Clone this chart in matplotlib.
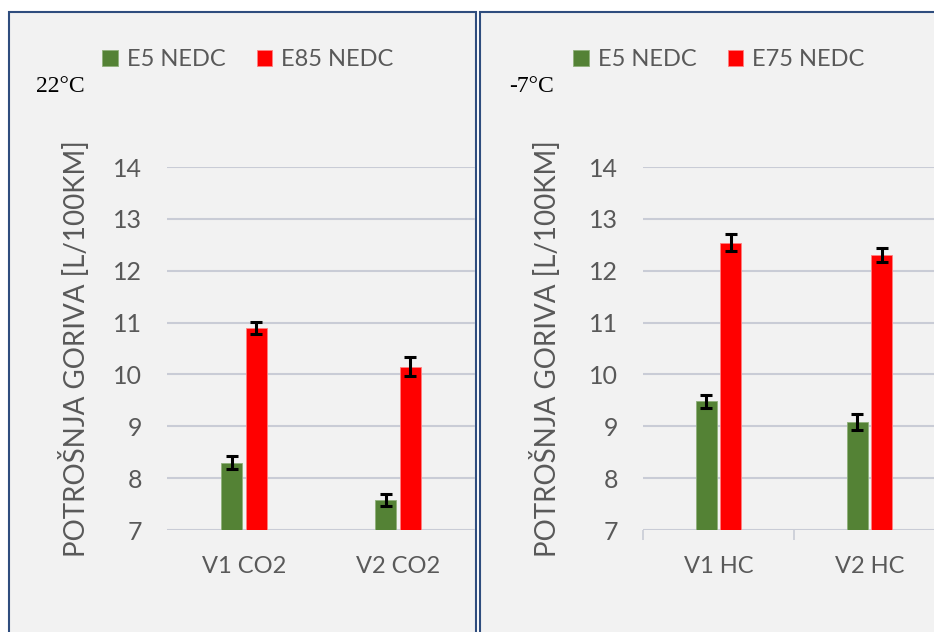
import numpy as np
import matplotlib
matplotlib.use('Agg')
import matplotlib.pyplot as plt
from matplotlib.patches import Rectangle

plt.rcParams['font.family'] = ['Lato', 'DejaVu Sans']

# data
cats_left = ['V1 CO2', 'V2 CO2']
e5_left = [8.3, 7.58]
e5_left_err = [0.12, 0.12]
e85_left = [10.9, 10.15]
e85_left_err = [0.12, 0.18]

cats_right = ['V1 HC', 'V2 HC']
e5_right = [9.48, 9.08]
e5_right_err = [0.13, 0.16]
e75_right = [12.54, 12.3]
e75_right_err = [0.16, 0.13]

yticks = [7, 8, 9, 10, 11, 12, 13, 14]

GREEN = '#548235'
RED = '#ff0000'
GREY = '#595959'
GRID = '#c9ccd6'
BORDER = '#2f4d7e'

W, H = 934, 632
fig = plt.figure(figsize=(W / 100, H / 100), dpi=100)
fig.patch.set_facecolor('white')

# panel backgrounds with border (pixel coords converted to figure fraction)
for x0, x1 in [(9, 476), (480, 940)]:
    rect = Rectangle((x0 / W, -0.01), (x1 - x0) / W, (H - 12) / H + 0.01,
                     transform=fig.transFigure, facecolor='#f2f2f2',
                     edgecolor=BORDER, linewidth=1.5, zorder=-10)
    fig.add_artist(rect)


def draw_panel(ax, cats, v1, e1, v2, e2, lab1, lab2, ticks_on_x):
    x = np.arange(len(cats))
    w = 0.14
    ax.bar(x - 0.08, v1, w, color=GREEN, edgecolor='#8fb07a', linewidth=0.6, label=lab1, zorder=3)
    ax.bar(x + 0.08, v2, w, color=RED, edgecolor='#ff8080', linewidth=0.6, label=lab2, zorder=3)
    ax.errorbar(x - 0.08, v1, yerr=e1, fmt='none', ecolor='black', elinewidth=2.2,
                capsize=4.3, capthick=2.2, zorder=4)
    ax.errorbar(x + 0.08, v2, yerr=e2, fmt='none', ecolor='black', elinewidth=2.2,
                capsize=4.3, capthick=2.2, zorder=4)
    ax.set_xlim(-0.5, len(cats) - 0.5)
    ax.set_ylim(7, 14)
    ax.set_yticks(yticks)
    ax.set_xticks(x)
    ax.set_xticklabels(cats)
    ax.set_facecolor('none')
    for s in ax.spines.values():
        s.set_visible(False)
    ax.yaxis.grid(True, color=GRID, linewidth=1.5, zorder=0)
    ax.set_axisbelow(True)
    ax.tick_params(axis='y', length=0, pad=18, labelsize=18, labelcolor=GREY)
    ax.tick_params(axis='x', length=0, pad=19, labelsize=17, labelcolor=GREY)
    if ticks_on_x:
        ax.set_xticks(np.arange(-0.5, len(cats)), minor=True)
        ax.tick_params(axis='x', which='minor', length=7, color=GRID, width=1.2)
    ax.set_ylabel('POTROŠNJA GORIVA [L/100KM]', fontsize=20, color=GREY)


axl = fig.add_axes([167 / W, 102 / H, 308 / W, 363 / H])
draw_panel(axl, cats_left, e5_left, e5_left_err, e85_left, e85_left_err,
           'E5 NEDC', 'E85 NEDC', False)
axl.yaxis.set_label_coords(-0.25, 0.5)

axr = fig.add_axes([643 / W, 102 / H, 302 / W, 363 / H])
draw_panel(axr, cats_right, e5_right, e5_right_err, e75_right, e75_right_err,
           'E5 NEDC', 'E75 NEDC', True)
axr.yaxis.set_label_coords(-0.27, 0.5)

for ax, cx in [(axl, 248), (axr, 719)]:
    ax.legend(loc='center', bbox_to_anchor=(cx / W, 1 - 60 / H),
              bbox_transform=fig.transFigure, ncol=2, frameon=False,
              fontsize=17, labelcolor=GREY, handlelength=0.65, handleheight=0.65,
              handletextpad=0.4, columnspacing=1.3)

fig.text(36 / W, 1 - 86 / H, '22°C', fontsize=17, color='black', va='center',
         family='Liberation Serif')
fig.text(509 / W, 1 - 86 / H, '-7°C', fontsize=17, color='black', va='center',
         family='Liberation Serif')

fig.savefig('out.png', dpi=100)
